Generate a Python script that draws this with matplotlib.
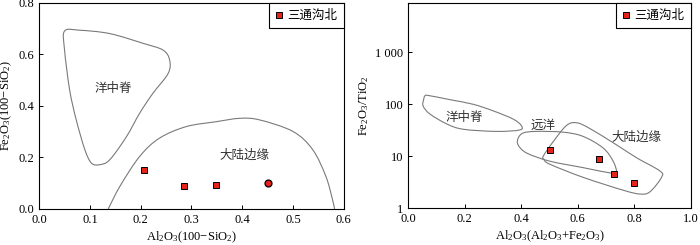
import matplotlib.pyplot as plt
import numpy as np
from matplotlib.path import Path
from matplotlib.patches import PathPatch
from matplotlib.ticker import FixedLocator, NullLocator

plt.rcParams['font.family'] = ['Liberation Serif', 'Noto Sans CJK SC']
plt.rcParams['mathtext.default'] = 'regular'

# left diagram: Al2O3/(100-SiO2) vs Fe2O3/(100-SiO2)
left_x = [0.207, 0.285, 0.348]
left_y = [0.152, 0.090, 0.095]
left_circle_x = [0.450]
left_circle_y = [0.102]

ridge_l_x = [0.050, 0.080, 0.139, 0.205, 0.244, 0.257, 0.254, 0.224, 0.198,
             0.172, 0.139, 0.119, 0.103, 0.090, 0.073, 0.060, 0.050, 0.050]
ridge_l_y = [0.691, 0.694, 0.681, 0.643, 0.617, 0.578, 0.526, 0.449, 0.372,
             0.281, 0.191, 0.172, 0.178, 0.230, 0.346, 0.462, 0.617, 0.691]
margin_l_x = [0.136, 0.159, 0.198, 0.237, 0.290, 0.349, 0.395, 0.434, 0.500,
              0.539, 0.565, 0.578, 0.582]
margin_l_y = [0.000, 0.088, 0.204, 0.275, 0.320, 0.339, 0.352, 0.346, 0.301,
              0.230, 0.126, 0.036, 0.000]

# right diagram: Al2O3/(Al2O3+Fe2O3) vs Fe2O3/TiO2
right_x = [0.500, 0.675, 0.727, 0.798]
right_y = [13.0, 9.0, 4.5, 3.1]

ridge_r_x = [0.059, 0.071, 0.147, 0.230, 0.300, 0.371, 0.400, 0.395, 0.313,
             0.195, 0.136, 0.077, 0.053, 0.055, 0.059]
ridge_r_y = [144, 148, 123, 100, 75, 52, 39, 32, 30, 33, 42, 65, 93, 123, 144]
pelagic_x = [0.389, 0.407, 0.454, 0.548, 0.619, 0.690, 0.725, 0.737, 0.719,
             0.619, 0.501, 0.419, 0.389, 0.389]
pelagic_y = [22, 28, 30, 29, 24, 14.3, 8, 4.9, 4.7, 6, 8, 11.5, 16.5, 22]
margin_r_x = [0.478, 0.513, 0.560, 0.596, 0.643, 0.737, 0.808, 0.890, 0.896,
              0.855, 0.820, 0.761, 0.619, 0.501, 0.480, 0.478]
margin_r_y = [10, 19, 39, 44, 34, 16.5, 9.3, 5.2, 3.9, 2.05, 1.86, 2.2, 3.9,
              7, 8.7, 10]

legend_label = '三通沟北'
red = '#e5231b'
line_gray = '#7a7a7a'
cjk = ['Noto Sans CJK SC']


def smooth_outline(ax, xs, ys, closed):
    # catmull-rom through the traced points, drawn as a bezier path
    # in display space so the log axis bends correctly
    pts = ax.transData.transform(np.column_stack([xs, ys]))
    if closed:
        pts = pts[:-1]
        n = len(pts)
        get = lambda i: pts[i % n]
        segs = range(n)
    else:
        n = len(pts)
        get = lambda i: pts[min(max(i, 0), n - 1)]
        segs = range(n - 1)
    verts = [get(0)]
    codes = [Path.MOVETO]
    for i in segs:
        p0, p1, p2, p3 = get(i - 1), get(i), get(i + 1), get(i + 2)
        verts += [p1 + (p2 - p0) / 6, p2 - (p3 - p1) / 6, p2]
        codes += [Path.CURVE4] * 3
    path = Path(np.array(verts), codes)
    ax.add_patch(PathPatch(path, fill=False, edgecolor=line_gray, lw=0.8,
                           transform=None, clip_on=True, clip_box=ax.bbox))


fig = plt.figure(figsize=(7, 2.45), dpi=100)
ax1 = fig.add_axes([0.056, 0.147, 0.435, 0.841])
ax2 = fig.add_axes([0.583, 0.151, 0.404, 0.837])

ax1.set_xlim(0, 0.6)
ax1.set_ylim(0, 0.8)
ax2.set_yscale('log')
ax2.set_xlim(0, 1.0)
ax2.set_ylim(1, 9000)

# left panel
smooth_outline(ax1, ridge_l_x, ridge_l_y, True)
smooth_outline(ax1, margin_l_x, margin_l_y, False)
ax1.plot(left_x, left_y, 's', ms=4.5, mfc=red, mec='k', mew=0.7,
         label=legend_label)
ax1.plot(left_circle_x, left_circle_y, 'o', ms=5, mfc=red, mec='k', mew=0.9)
ax1.text(0.146, 0.468, '洋中脊', family=cjk, fontsize=9, color='#333333',
         ha='center', va='center')
ax1.text(0.405, 0.21, '大陆边缘', family=cjk, fontsize=9, color='#333333',
         ha='center', va='center')
ax1.set_xticks([0.0, 0.1, 0.2, 0.3, 0.4, 0.5, 0.6])
ax1.set_yticks([0.0, 0.2, 0.4, 0.6, 0.8])
ax1.set_xticklabels(['0.0', '0.1', '0.2', '0.3', '0.4', '0.5', '0.6'])
ax1.set_yticklabels(['0.0', '0.2', '0.4', '0.6', '0.8'])
ax1.set_xlabel('Al$_2$O$_3$(100−SiO$_2$)', fontsize=9, labelpad=3)
ax1.set_ylabel('Fe$_2$O$_3$(100−SiO$_2$)', fontsize=9, labelpad=3)

# right panel
smooth_outline(ax2, ridge_r_x, ridge_r_y, True)
smooth_outline(ax2, pelagic_x, pelagic_y, True)
smooth_outline(ax2, margin_r_x, margin_r_y, True)
ax2.plot(right_x, right_y, 's', ms=4.5, mfc=red, mec='k', mew=0.7,
         label=legend_label)
ax2.text(0.20, 56, '洋中脊', family=cjk, fontsize=9, color='#333333',
         ha='center', va='center')
ax2.text(0.478, 40, '远洋', family=cjk, fontsize=9, color='#333333',
         ha='center', va='center')
ax2.text(0.808, 23, '大陆边缘', family=cjk, fontsize=9, color='#333333',
         ha='center', va='center')
ax2.set_xticks([0.0, 0.2, 0.4, 0.6, 0.8, 1.0])
ax2.set_xticklabels(['0.0', '0.2', '0.4', '0.6', '0.8', '1.0'])
ax2.yaxis.set_major_locator(FixedLocator([1, 10, 100, 1000]))
ax2.yaxis.set_minor_locator(NullLocator())
ax2.set_yticklabels(['1', '10', '100', '1 000'])
ax2.set_xlabel('Al$_2$O$_3$(Al$_2$O$_3$+Fe$_2$O$_3$)', fontsize=9, labelpad=3)
ax2.set_ylabel('Fe$_2$O$_3$/TiO$_2$', fontsize=9, labelpad=3)

for ax in (ax1, ax2):
    ax.tick_params(direction='in', length=3, width=0.7, labelsize=9,
                   top=False, right=False)
    for s in ax.spines.values():
        s.set_linewidth(0.8)
    leg = ax.legend(loc='upper right', borderaxespad=0, fancybox=False,
                    edgecolor='k', handlelength=0.6, handletextpad=0.4,
                    borderpad=0.5, prop={'family': cjk, 'size': 9})
    leg.get_frame().set_linewidth(0.8)
    leg.get_frame().set_alpha(1)

fig.savefig('out.png', dpi=100)
